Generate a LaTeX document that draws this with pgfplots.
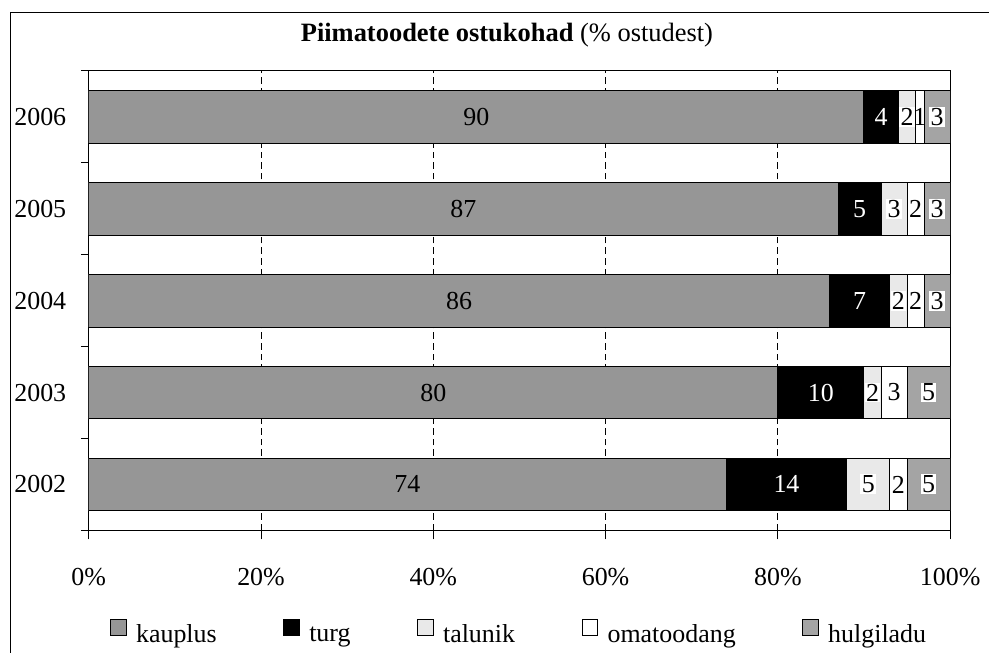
\documentclass[border=0pt]{standalone}
\usepackage{pgfplots}
\pgfplotsset{compat=1.18}
\usepackage{fontspec}
\setmainfont{Liberation Serif}
\definecolor{kaup}{HTML}{969696}
\definecolor{talu}{HTML}{E9E9E9}
\definecolor{hulg}{HTML}{A4A4A4}
\begin{document}
\fontsize{19.5}{23}\selectfont
\begin{tikzpicture}
\begin{scope}[x=0.75pt,y=-0.75pt]
\useasboundingbox (0,0) rectangle (989,648);
\draw[line width=1.1pt] (10.5,660) -- (10.5,12.5) -- (1000,12.5);
\node[anchor=base,font=\fontsize{19.9}{23}\selectfont] at (508.5,42) {\textbf{Piimatoodete ostukohad} (\% ostudest)};
\end{scope}
\begin{axis}[
  at={(66.75pt,-399pt)}, anchor=south west,
  scale only axis, width=648pt, height=345.75pt,
  xbar stacked, bar width=0.575,
  xmin=0, xmax=100, ymin=0.5, ymax=5.5,
  xtick={0,20,40,60,80,100},
  xticklabels={0\%,20\%,40\%,60\%,80\%,100\%},
  ytick={1,2,3,4,5},
  yticklabels={2002,2003,2004,2005,2006},
  minor ytick={0.5,1.5,2.5,3.5,4.5,5.5},
  major y tick style={draw=none},
  xtick pos=bottom, ytick pos=left,
  tick align=outside,
  major tick length=6.75pt,
  minor tick length=6pt,
  tick style={black, line width=0.75pt},
  axis line style={line width=0.9pt},
  xmajorgrids,
  grid style={black, dashed, line width=0.6pt, dash pattern=on 5pt off 3pt},
  xticklabel style={yshift=-15pt},
  yticklabel style={xshift=-3.5pt},
  /pgf/number format/assume math mode=true,
  point meta=explicit,
  nodes near coords,
  every node near coord/.append style={font=\fontsize{19.5}{23}\selectfont, text=black, inner sep=1pt},
  legend columns=5,
  legend style={at={(0.5,0)}, anchor=center, yshift=-78pt, xshift=0pt, draw=none, fill=none,
    /tikz/every even column/.append style={column sep=48pt},
    /tikz/every odd column/.append style={column sep=5pt},
    nodes={inner sep=2pt}},
  legend image code/.code={\draw[#1,draw=black,line width=0.6pt] (0pt,0.5pt) rectangle (12pt,12.5pt);},
  every axis plot/.append style={draw=black, line width=0.75pt},
]
\addplot[fill=kaup] coordinates {(74,1)[74] (80,2)[80] (86,3)[86] (87,4)[87] (90,5)[90]};
\addplot[fill=black, every node near coord/.append style={text=white}] coordinates {(14,1)[14] (10,2)[10] (7,3)[7] (5,4)[5] (4,5)[4]};
\addplot[fill=talu, every node near coord/.append style={fill=white}] coordinates {(5,1)[5] (2,2)[2] (2,3)[2] (3,4)[3] (2,5)[2]};
\addplot[fill=white] coordinates {(2,1)[2] (3,2)[3] (2,3)[2] (2,4)[2] (1,5)[1]};
\addplot[fill=hulg, every node near coord/.append style={fill=white}] coordinates {(5,1)[5] (5,2)[5] (3,3)[3] (3,4)[3] (3,5)[3]};
\legend{kauplus,turg,talunik,omatoodang,hulgiladu}
\end{axis}
\end{tikzpicture}
\end{document}
